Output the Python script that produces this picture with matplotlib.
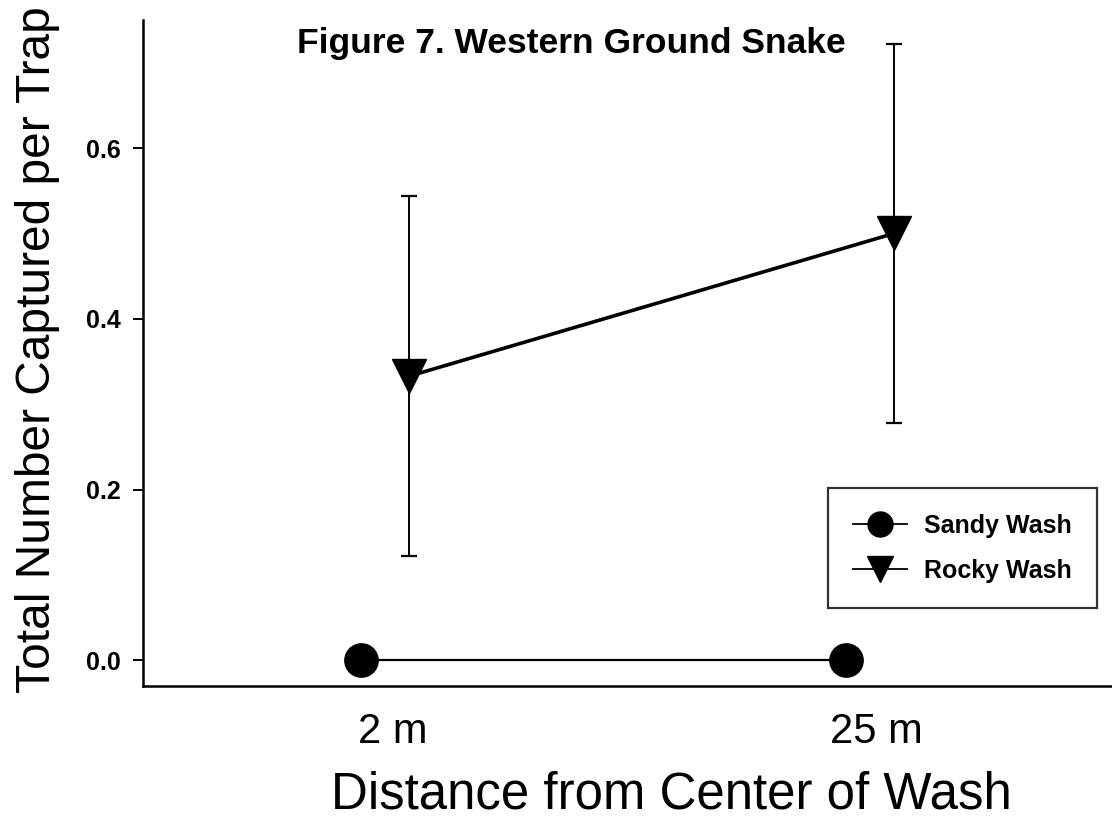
import matplotlib
matplotlib.use("Agg")
import matplotlib.pyplot as plt
from matplotlib.transforms import ScaledTranslation
import numpy as np

plt.rcParams['font.family'] = ['Liberation Sans', 'DejaVu Sans']

categories = ["2 m", "25 m"]
sandy_mean = [0.0, 0.0]
rocky_mean = [0.333, 0.5]
rocky_err = [0.211, 0.222]

fig = plt.figure(figsize=(11.12, 8.34), dpi=100)
ax = fig.add_axes([143/1112, 1 - 686/834, 969/1112, 666/834])

x = np.arange(1, len(categories) + 1)
off = 0.05

ax.plot(x - off, sandy_mean, color='black', lw=1.6, marker='o', ms=24,
        label='Sandy Wash', zorder=3)
ax.errorbar(x + off, rocky_mean, yerr=rocky_err, fmt='none', ecolor='black',
            elinewidth=1.4, capsize=6, capthick=1.6, zorder=2)
ax.plot(x + off, rocky_mean, color='black', lw=2.6, marker='v', ms=25,
        label='Rocky Wash', zorder=3)

ax.set_xlim(0.5, 2.5)
ax.set_ylim(-0.03, 0.75)
ax.set_yticks([0.0, 0.2, 0.4, 0.6])
ax.set_yticklabels(["0.0", "0.2", "0.4", "0.6"], fontsize=18, fontweight='bold')
ax.set_xticks(x)
ax.set_xticklabels(categories, fontsize=30)
ax.tick_params(axis='x', length=0, pad=19)
ax.tick_params(axis='y', direction='out', length=7, width=1.4, pad=9)
for lab in ax.get_xticklabels():
    lab.set_transform(lab.get_transform() + ScaledTranslation(7/100, 0, fig.dpi_scale_trans))

for s in ['top', 'right']:
    ax.spines[s].set_visible(False)
for s in ['left', 'bottom']:
    ax.spines[s].set_linewidth(1.8)

ax.set_xlabel("Distance from Center of Wash", fontsize=36.7)
ax.xaxis.set_label_coords(0.5449, -0.127)
ax.set_ylabel("Total Number Captured per Trap", fontsize=34.5)
ax.yaxis.set_label_coords(-0.0857, 0.5045)

ax.text(0.442, 0.951, "Figure 7. Western Ground Snake", transform=ax.transAxes,
        ha='center', va='baseline', fontsize=25.5, fontweight='bold')

leg = ax.legend(loc='upper right', bbox_to_anchor=(0.9845, 0.297),
                borderaxespad=0, fancybox=False, edgecolor='black',
                markerscale=0.75, handlelength=2.16,
                prop={'weight': 'bold', 'size': 18}, borderpad=1.02,
                labelspacing=0.85, handletextpad=0.65)
leg.get_frame().set_linewidth(1.6)
for h in leg.legend_handles:
    h.set_linewidth(1.3)

fig.savefig("out.png", dpi=100)
